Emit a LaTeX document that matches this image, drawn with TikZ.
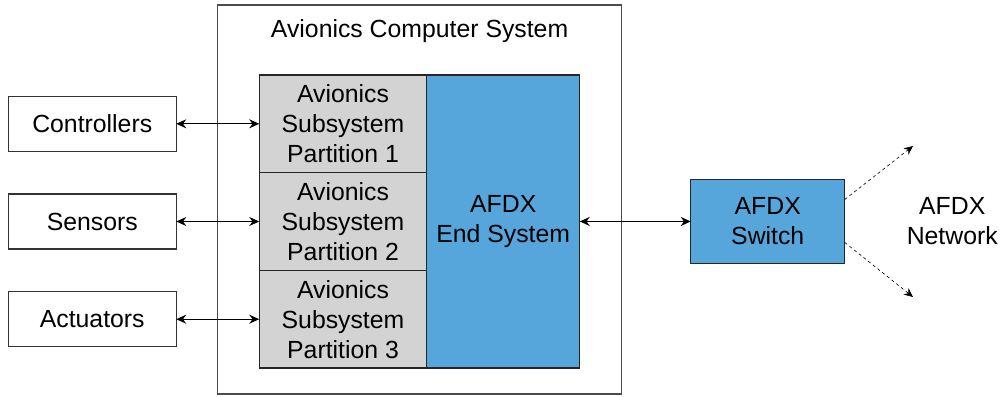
\documentclass[tikz,border=0pt]{standalone}
\usepackage{fontspec}
\setmainfont{Liberation Sans}
\usetikzlibrary{positioning,arrows.meta}
\definecolor{partgray}{HTML}{D3D3D3}
\definecolor{afdxblue}{HTML}{56A5DB}

\begin{document}
\begin{tikzpicture}[
			x=1pt, y=-1pt,
			font=\fontsize{24.8}{30}\selectfont,
			every node/.style={inner sep=0pt, outer sep=0pt, align=center},
			devnode/.style={rectangle, draw=black!80, line width=1.2pt, minimum width=168pt, minimum height=55pt},
			partnode/.style={rectangle, draw=black!85, fill=partgray, line width=1.2pt, minimum width=167.5pt, minimum height=97.7pt},
			afdxnode/.style={rectangle, draw=black!85, fill=afdxblue, line width=1.2pt},
			link/.style={{Stealth[length=10pt,width=9pt]}-{Stealth[length=10pt,width=9pt]}, line width=1.1pt},
			netlink/.style={-{Stealth[length=9pt,width=8pt]}, dashed, line width=0.6pt},
			]
			\useasboundingbox (0,0) rectangle (1003,396);
			%Outer box
			\node[rectangle, draw=black!70, line width=1.2pt, minimum width=404pt, minimum height=389pt] (acs) at (419.6,199.5) {};
			\node (acstitle) [below=15pt of acs.north] {Avionics Computer System};

			%Nodes
			\node[partnode] (part1) at (343,123.8) {Avionics\\Subsystem\\Partition 1};
			\node[partnode] (part2) [below=0pt of part1] {Avionics\\Subsystem\\Partition 2};
			\node[partnode] (part3) [below=0pt of part2] {Avionics\\Subsystem\\Partition 3};
			\node[afdxnode, minimum width=153pt, minimum height=293pt, anchor=north west] (endsys) at (part1.north east) {AFDX\\End System};

			\node[devnode] (ctrl) [left=83pt of part1] {Controllers};
			\node[devnode] (sens) [left=83pt of part2] {Sensors};
			\node[devnode] (act)  [left=83pt of part3] {Actuators};

			\node[afdxnode, minimum width=154pt, minimum height=84pt] (switch) [right=111pt of endsys] {AFDX\\Switch};
			\node (net) [right=62pt of switch] {AFDX\\Network};
			\coordinate (netup) at (913,146);
			\coordinate (netdown) at (913,297);

			%Connectors
			\draw[link] (ctrl) -- (part1);
			\draw[link] (sens) -- (part2);
			\draw[link] (act) -- (part3);
			\draw[link] (endsys) -- (switch);
			\draw[netlink] ([yshift=-20pt]switch.north east) -- (netup);
			\draw[netlink] ([yshift=21pt]switch.south east) -- (netdown);
		\end{tikzpicture}
\end{document}
